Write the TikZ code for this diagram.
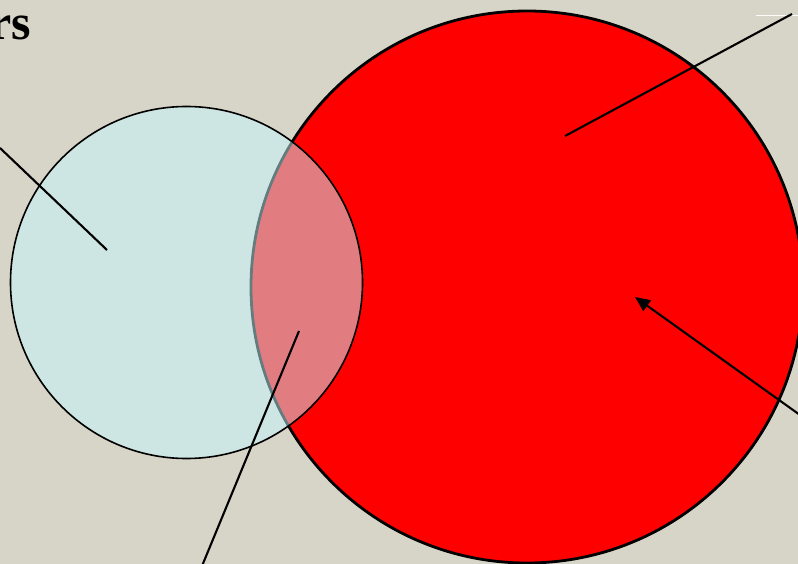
\documentclass[tikz,border=0pt]{standalone}
\usepackage{fontspec}
\setmainfont{Liberation Serif}
\usetikzlibrary{arrows.meta}
\definecolor{bg}{RGB}{215,213,200}
\definecolor{lcyan}{RGB}{197,248,255}
\begin{document}
\begin{tikzpicture}[x=1pt,y=-1pt,
  conn/.style={line width=2.1pt, draw=black},
  bigcircle/.style={circle, draw=black, fill=red, line width=2.8pt, minimum size=552pt, inner sep=0pt},
  smallcircle/.style={circle, draw=black, fill=lcyan, fill opacity=0.5, draw opacity=1, line width=1.6pt, minimum size=352pt, inner sep=0pt}]
\useasboundingbox (0,0) rectangle (798,564);
\begin{scope}
\clip (0,0) rectangle (798,564);
\fill[bg] (0,0) rectangle (798,564);
\node[bigcircle] (big) at (527,287) {};
\node[smallcircle] (small) at (186.5,282.5) {};
\node[anchor=base east, inner sep=0pt, font=\bfseries\fontsize{50}{50}\selectfont] (title) at (31,40) {rs};
\coordinate (l1a) at (0,148);
\coordinate (l1b) at (107,250);
\coordinate (l2a) at (792,14);
\coordinate (l2b) at (565,136);
\coordinate (l3a) at (202,566);
\coordinate (l3b) at (299,331);
\coordinate (l4a) at (800,415);
\coordinate (l4b) at (635,297);
\coordinate (w1) at (756,15);
\coordinate (w2) at (798,15);
\draw[line width=0.8pt, draw=white!92!bg] (w1) -- (w2);
\draw[conn] (l1a) -- (l1b);
\draw[conn] (l2a) -- (l2b);
\draw[conn] (l3a) -- (l3b);
\draw[conn, -{Triangle[length=15pt,width=13pt]}] (l4a) -- (l4b);
\end{scope}
\end{tikzpicture}
\end{document}
